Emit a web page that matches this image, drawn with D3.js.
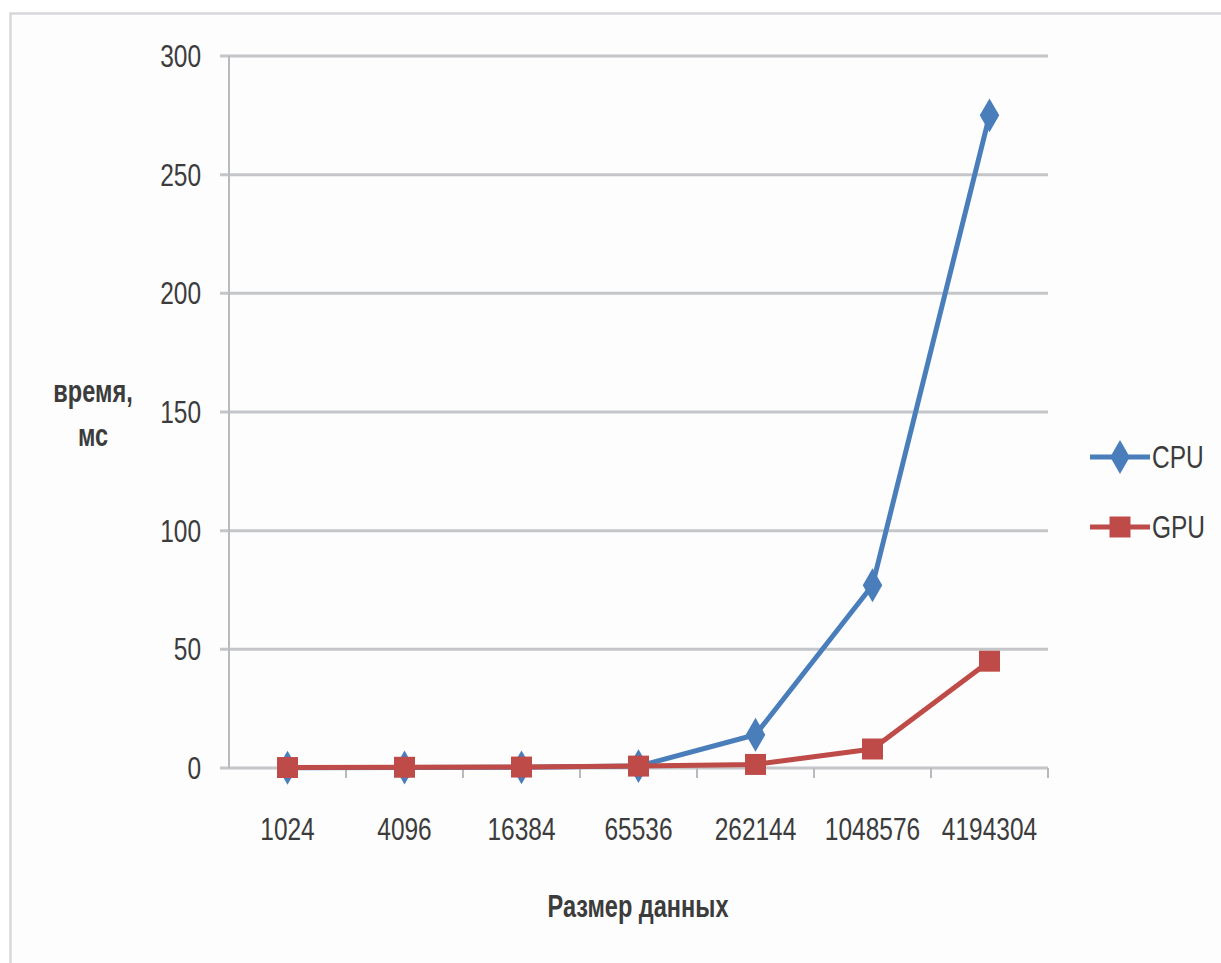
<!DOCTYPE html>
<html>
<head>
<meta charset="utf-8">
<script src="https://cdn.jsdelivr.net/npm/d3@7"></script>
<style>
  html, body { margin: 0; padding: 0; background: #fff; }
  svg { display: block; }
  text { font-family: "Liberation Sans", "DejaVu Sans", sans-serif; fill: #3c3c3c; }
</style>
</head>
<body>
<svg id="chart" width="1221" height="963"></svg>
<script>
// Data: processing time (ms) by data size
const sizes = ["1024", "4096", "16384", "65536", "262144", "1048576", "4194304"];
const cpuTimes = [0.1, 0.2, 0.3, 0.8, 14, 77, 275];
const gpuTimes = [0.2, 0.3, 0.4, 0.8, 1.5, 8, 45];
const yTicks = [0, 50, 100, 150, 200, 250, 300];
const seriesNames = ["CPU", "GPU"];
const seriesColors = ["#4a7ebb", "#be4b48"];

const svg = d3.select("#chart");

// narrow text: drawn at full height, compressed horizontally
const SX = 0.79;
function label(parent, px, py, str, opts = {}) {
  const g = parent.append("g").attr("transform", `translate(${px},${py}) scale(${opts.sx || SX},1)`);
  return g.append("text")
    .attr("x", 0).attr("y", 0)
    .attr("dy", opts.dy || null)
    .attr("text-anchor", opts.anchor || "start")
    .attr("font-size", opts.size || 31)
    .attr("font-weight", opts.bold ? "bold" : null)
    .attr("fill", opts.bold ? "#262626" : null)
    .text(str);
}

// outer frame
svg.append("rect")
  .attr("x", 10.5).attr("y", 13.5)
  .attr("width", 1230).attr("height", 960)
  .attr("fill", "#fdfdfd")
  .attr("stroke", "#d6d8db").attr("stroke-width", 2.5);

const plot = { left: 229, right: 1048, top: 56, bottom: 768 };

const x = d3.scaleBand().domain(sizes).range([plot.left, plot.right]);
const y = d3.scaleLinear().domain([0, 300]).range([plot.bottom, plot.top]);

// horizontal gridlines
svg.append("g")
  .selectAll("line")
  .data(yTicks)
  .join("line")
  .attr("x1", plot.left - 9).attr("x2", plot.right)
  .attr("y1", d => y(d)).attr("y2", d => y(d))
  .attr("stroke", "#c4c6c9").attr("stroke-width", 3);

// y axis line
svg.append("line")
  .attr("x1", plot.left).attr("x2", plot.left)
  .attr("y1", plot.top).attr("y2", plot.bottom)
  .attr("stroke", "#b8babd").attr("stroke-width", 2);

// y tick labels
const yLab = svg.append("g");
yTicks.forEach(t => label(yLab, 201, y(t), t, { anchor: "end", dy: "0.36em" }));

// x category separator ticks
const edges = sizes.map(s => x(s)).concat([plot.right]);
svg.append("g")
  .selectAll("line")
  .data(edges.slice(1))
  .join("line")
  .attr("x1", d => d).attr("x2", d => d)
  .attr("y1", plot.bottom).attr("y2", plot.bottom + 10)
  .attr("stroke", "#b8babd").attr("stroke-width", 2);

// x tick labels
const xLab = svg.append("g");
sizes.forEach(s => label(xLab, x(s) + x.bandwidth() / 2, 840, s, { anchor: "middle" }));

// axis titles
label(svg, 638, 917, "Размер данных", { anchor: "middle", bold: true, sx: 0.76 });
label(svg, 93, 402, "время,", { anchor: "middle", bold: true, sx: 0.76 });
label(svg, 93, 446, "мс", { anchor: "middle", bold: true, sx: 0.76 });

// series
const series = [cpuTimes, gpuTimes];
const line = d3.line()
  .x((d, i) => x(sizes[i]) + x.bandwidth() / 2)
  .y(d => y(d));

const diamond = d3.symbol().type(d3.symbolDiamond).size(330);
const square = d3.symbol().type(d3.symbolSquare).size(440);
const shapes = [diamond, square];

series.forEach((vals, k) => {
  svg.append("path")
    .datum(vals)
    .attr("d", line)
    .attr("fill", "none")
    .attr("stroke", seriesColors[k])
    .attr("stroke-width", 5)
    .attr("stroke-linejoin", "round");
});
series.forEach((vals, k) => {
  svg.append("g")
    .selectAll("path")
    .data(vals)
    .join("path")
    .attr("transform", (d, i) => `translate(${x(sizes[i]) + x.bandwidth() / 2},${y(d)})`)
    .attr("d", shapes[k]())
    .attr("fill", seriesColors[k]);
});

// legend
const legendY = [457, 527];
seriesNames.forEach((name, k) => {
  const g = svg.append("g").attr("transform", `translate(0,${legendY[k]})`);
  g.append("line")
    .attr("x1", 1090).attr("x2", 1150)
    .attr("y1", 0).attr("y2", 0)
    .attr("stroke", seriesColors[k]).attr("stroke-width", 5);
  g.append("path")
    .attr("transform", "translate(1120,0)")
    .attr("d", shapes[k]())
    .attr("fill", seriesColors[k]);
  label(g, 1152, 0, name, { dy: "0.36em" });
});
</script>
</body>
</html>
